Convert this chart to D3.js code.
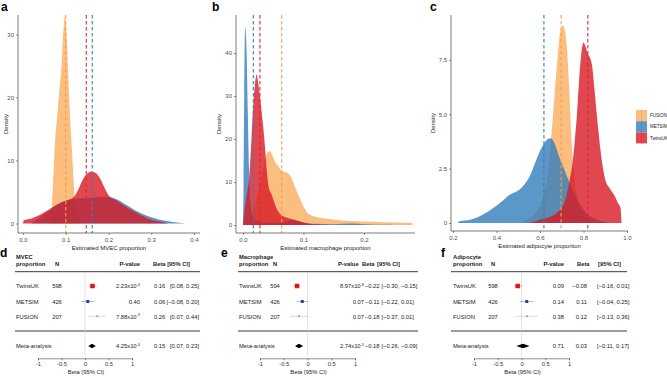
<!DOCTYPE html>
<html><head><meta charset="utf-8">
<script src="https://cdn.jsdelivr.net/npm/d3@7"></script>
<style>body{margin:0;background:#fff} svg{display:block;font-family:"Liberation Sans",Arial,sans-serif}</style>
</head><body><svg width="667" height="376"></svg>
<script>
// ---------- DATA ----------
const cohorts = ["FUSION", "METSIM", "TwinsUK"];

// Panel a: MVEC proportion densities [proportion, density]
const mvecFusion = [[0.06,0],[0.065,1],[0.07,6],[0.075,13],[0.08,17],[0.085,21],[0.09,25],[0.095,31],[0.098,33],[0.102,30],[0.105,25],[0.11,17],[0.115,11],[0.12,5],[0.125,2],[0.13,0.5],[0.14,0]];
const mvecMetsim = [[0.02,0],[0.03,0.5],[0.04,1.0],[0.06,2.0],[0.08,3.0],[0.1,3.6],[0.12,3.9],[0.14,4.0],[0.16,4.1],[0.18,4.2],[0.2,4.2],[0.22,3.8],[0.24,3.0],[0.26,2.2],[0.28,1.5],[0.3,1.0],[0.32,0.6],[0.34,0.35],[0.36,0.15],[0.38,0]];
const mvecTwins = [[0.0,0],[0.002,0.5],[0.02,0.8],[0.04,1.4],[0.06,2.2],[0.08,3.0],[0.1,3.6],[0.12,4.3],[0.13,5.5],[0.14,7.0],[0.15,7.9],[0.16,8.2],[0.17,8.0],[0.18,7.2],[0.19,5.8],[0.2,4.5],[0.22,3.6],[0.24,2.7],[0.26,1.9],[0.28,1.2],[0.3,0.6],[0.32,0.3],[0.34,0]];
const mvecMeans = [0.100, 0.162, 0.148];
const mvecTicks = [0, 0.1, 0.2, 0.3, 0.4];
const mvecYTicks = [0, 10, 20, 30];

// Panel b: macrophage proportion densities
const macroFusion = [[0,0],[0.005,0.5],[0.01,1.5],[0.02,5],[0.03,11],[0.035,14.5],[0.04,16.6],[0.044,17.2],[0.048,16.4],[0.052,15],[0.056,14],[0.06,13.3],[0.065,12.6],[0.07,12.3],[0.075,12],[0.08,11],[0.085,9.2],[0.09,7.5],[0.095,5.8],[0.1,4.3],[0.106,2.9],[0.115,2.1],[0.127,1.7],[0.15,1.3],[0.17,1.0],[0.2,0.8],[0.23,0.65],[0.27,0.5],[0.28,0.45],[0.2801,0]];
const macroMetsim = [[0,0],[0.001,10],[0.002,30],[0.0035,46],[0.006,40],[0.008,26],[0.01,13],[0.012,6],[0.015,2.5],[0.02,1.2],[0.03,0.7],[0.05,0.5],[0.07,0.7],[0.08,1.1],[0.09,1.0],[0.1,0.6],[0.12,0.3],[0.15,0.2],[0.18,0.35],[0.2,0.2],[0.24,0.05],[0.27,0]];
const macroTwins = [[0,0],[0.002,3],[0.005,6],[0.008,8.5],[0.01,10.5],[0.012,15],[0.014,20],[0.017,28],[0.02,33],[0.0225,35],[0.025,33],[0.028,30],[0.031,26],[0.034,22],[0.037,17],[0.04,11.5],[0.043,8.5],[0.047,7.2],[0.05,6],[0.055,4],[0.06,2.8],[0.07,1.8],[0.08,1.4],[0.09,1.0],[0.1,0.6],[0.11,0.3],[0.12,0.15],[0.14,0]];
const macroMeans = [0.064, 0.017, 0.028];
const macroTicks = [0, 0.1, 0.2];
const macroYTicks = [0, 10, 20, 30, 40];

// Panel c: adipocyte proportion densities
const adipoFusion = [[0.5,0],[0.55,0.2],[0.6,0.8],[0.62,1.4],[0.64,2.6],[0.66,5],[0.68,7.5],[0.695,8.9],[0.705,9.1],[0.715,8.8],[0.725,7.9],[0.735,6],[0.745,3.8],[0.755,2.4],[0.77,1.2],[0.79,0.5],[0.82,0.15],[0.85,0]];
const adipoMetsim = [[0.22,0],[0.23,0.08],[0.28,0.15],[0.34,0.4],[0.38,0.65],[0.42,0.95],[0.46,1.3],[0.5,1.5],[0.53,1.8],[0.555,2.2],[0.575,2.7],[0.595,3.2],[0.615,3.6],[0.635,3.85],[0.65,3.9],[0.665,3.7],[0.69,3.0],[0.71,2.5],[0.73,2.0],[0.76,1.3],[0.8,0.6],[0.85,0.2],[0.9,0.05],[0.92,0]];
const adipoTwins = [[0.55,0],[0.6,0.15],[0.65,0.3],[0.68,0.5],[0.7,0.7],[0.72,1.2],[0.735,1.9],[0.75,2.8],[0.76,3.8],[0.77,5.0],[0.78,6.6],[0.79,7.8],[0.8,8.3],[0.81,8.1],[0.82,7.8],[0.83,7.6],[0.84,7.2],[0.85,6.2],[0.86,5.1],[0.87,4.1],[0.88,3.2],[0.89,2.5],[0.9,2.0],[0.92,1.6],[0.94,1.3],[0.96,0.9],[0.97,0.7],[0.975,0]];
const adipoMeans = [0.697, 0.618, 0.820];
const adipoTicks = [0.2, 0.4, 0.6, 0.8, 1.0];
const adipoYTicks = [0, 2.5, 5.0, 7.5];

// Forest plots
const studies = ["TwinsUK", "METSIM", "FUSION"];
const forestTicks = [-1, -0.5, 0, 0.5, 1];
const forestTickLabels = ["-1", "-0.5", "0", "0.5", "1"];

const mvecN = [598, 426, 207];
const mvecP = ["2.23x10^-4", "0.40", "7.88x10^-3"];
const mvecBeta = [0.16, 0.06, 0.26];
const mvecLo = [0.08, -0.08, 0.07];
const mvecHi = [0.25, 0.20, 0.44];
const mvecMeta = [0.15, 0.07, 0.23];
const mvecMetaP = "4.25x10^-4";

const macroN = [594, 426, 207];
const macroP = ["8.97x10^-8", "0.07", "0.07"];
const macroBeta = [-0.22, -0.11, -0.18];
const macroLo = [-0.30, -0.22, -0.37];
const macroHi = [-0.15, 0.01, 0.01];
const macroMeta = [-0.18, -0.26, -0.09];
const macroMetaP = "2.74x10^-5";

const adipoN = [598, 426, 207];
const adipoP = ["0.09", "0.14", "0.38"];
const adipoBeta = [-0.08, 0.11, 0.12];
const adipoLo = [-0.16, -0.04, -0.13];
const adipoHi = [0.01, 0.25, 0.36];
const adipoMeta = [0.03, -0.11, 0.17];
const adipoMetaP = "0.71";

// ---------- STYLE ----------
const fillColor = {FUSION: "#FAAE5E", METSIM: "#327DBC", TwinsUK: "#D81923"};
const vlineColor = {FUSION: "#F4A04E", METSIM: "#3C7DB6", TwinsUK: "#D42A3C"};
const markColor = {TwinsUK: "#D7191C", METSIM: "#2B3F9A", FUSION: "#9A9A9A"};
const markSize = {TwinsUK: 4.5, METSIM: 3, FUSION: 1.8};
const axisCol = "#444";
const txtCol = "#4d4d4d";

const svg = d3.select("svg");
const f2 = d3.format(".2f");

// ---------- DENSITY PANELS ----------
function densityPanel(o) {
  const g = svg.append("g");
  const x = d3.scaleLinear().domain(o.xd).range(o.xr);
  const y = d3.scaleLinear().domain(o.yd).range(o.yr);
  const area = d3.area().x(d => x(d[0])).y0(y(0)).y1(d => y(d[1])).curve(d3.curveMonotoneX);
  o.series.forEach((s, i) => {
    g.append("path").attr("d", area(s)).attr("fill", fillColor[cohorts[i]]).attr("fill-opacity", 0.8);
  });
  o.means.forEach((m, i) => {
    g.append("line").attr("x1", x(m)).attr("x2", x(m)).attr("y1", o.top).attr("y2", o.bottom)
      .attr("stroke", vlineColor[cohorts[i]]).attr("stroke-width", 1.1).attr("stroke-dasharray", "3.5,2.5");
  });
  g.append("line").attr("x1", o.left).attr("x2", o.left).attr("y1", o.top).attr("y2", o.bottom).attr("stroke", axisCol).attr("stroke-width", 0.7);
  g.append("line").attr("x1", o.left).attr("x2", o.right).attr("y1", o.bottom).attr("y2", o.bottom).attr("stroke", axisCol).attr("stroke-width", 0.7);
  const xa = d3.axisBottom(x).tickValues(o.xt).tickSize(2).tickPadding(2.5).tickFormat(o.xf);
  const xg = g.append("g").attr("transform", `translate(0,${o.bottom})`).call(xa);
  const ya = d3.axisLeft(y).tickValues(o.yt).tickSize(2).tickPadding(2).tickFormat(o.yf);
  const yg = g.append("g").attr("transform", `translate(${o.left},0)`).call(ya);
  [xg, yg].forEach(a => {
    a.select(".domain").remove();
    a.selectAll("line").attr("stroke", axisCol).attr("stroke-width", 0.6);
    a.selectAll("text").attr("font-size", 6).attr("fill", txtCol).attr("font-family", "Liberation Sans, Arial, sans-serif");
  });
  g.append("text").attr("x", (o.left + o.right) / 2).attr("y", o.bottom + 17).attr("text-anchor", "middle")
    .attr("font-size", 6).attr("fill", "#222").text(o.xlabel);
  g.append("text").attr("transform", `translate(${o.ylabX},${(o.top + o.bottom) / 2}) rotate(-90)`)
    .attr("text-anchor", "middle").attr("font-size", 6).attr("fill", "#222").text("Density");
  g.append("text").attr("x", o.letterX).attr("y", 11).attr("font-size", 12).attr("font-weight", "bold").attr("fill", "#000").text(o.letter);
}

densityPanel({letter: "a", letterX: 1, left: 18, right: 200, top: 15, bottom: 233,
  xd: [0, 0.4], xr: [23, 194], yd: [0, 30], yr: [223.5, 34.5],
  series: [mvecFusion, mvecMetsim, mvecTwins], means: mvecMeans,
  xt: mvecTicks, xf: d3.format(".1f"), yt: mvecYTicks, yf: d3.format("d"),
  xlabel: "Estimated MVEC proportion", ylabX: 8});
densityPanel({letter: "b", letterX: 212, left: 236, right: 415, top: 15, bottom: 233,
  xd: [0, 0.2], xr: [243, 364], yd: [0, 40], yr: [225, 53],
  series: [macroFusion, macroMetsim, macroTwins], means: macroMeans,
  xt: macroTicks, xf: d3.format(".1f"), yt: macroYTicks, yf: d3.format("d"),
  xlabel: "Estimated macrophage proportion", ylabX: 221});
densityPanel({letter: "c", letterX: 430, left: 451, right: 628, top: 15, bottom: 231,
  xd: [0.2, 1.0], xr: [453, 627], yd: [0, 7.5], yr: [223, 60],
  series: [adipoFusion, adipoMetsim, adipoTwins], means: adipoMeans,
  xt: adipoTicks, xf: d3.format(".1f"), yt: adipoYTicks, yf: v => v === 0 ? "0" : d3.format(".1f")(v),
  xlabel: "Estimated adipocyte proportion", ylabX: 435});

// legend
const leg = svg.append("g");
cohorts.forEach((c, i) => {
  const y0 = 110 + i * 11.2;
  leg.append("rect").attr("x", 636).attr("y", y0).attr("width", 11).attr("height", 11)
    .attr("fill", fillColor[c]).attr("fill-opacity", 0.8);
  leg.append("line").attr("x1", 641.5).attr("x2", 641.5).attr("y1", y0).attr("y2", y0 + 11)
    .attr("stroke", vlineColor[c]).attr("stroke-width", 0.8).attr("stroke-dasharray", "2,1");
  leg.append("text").attr("x", 650).attr("y", y0 + 7.2).attr("font-size", 4.5).attr("fill", "#222").text(c);
});

// ---------- FOREST PANELS ----------
function pvalText(sel, s) {
  const parts = s.split("^");
  sel.append("tspan").text(parts[0]);
  if (parts[1]) sel.append("tspan").attr("dy", -2.3).attr("font-size", 3.8).text(parts[1]);
}
function ciText(lo, hi) { return "[" + f2(lo) + ", " + f2(hi) + "]"; }

function forestPanel(o) {
  const g = svg.append("g");
  const x = d3.scaleLinear().domain([-1, 1]).range(o.xr);
  const rowY = [286, 301.5, 316.3];
  const metaY = 346;
  const fs = 5.8;
  const T = (xx, yy, s, anchor, bold) => g.append("text").attr("x", xx).attr("y", yy)
    .attr("text-anchor", anchor || "start").attr("font-size", fs).attr("fill", "#222")
    .attr("font-weight", bold ? "bold" : "normal").text(s);
  g.append("text").attr("x", o.letterX).attr("y", 257).attr("font-size", 12).attr("font-weight", "bold").text(o.letter);
  T(o.labX, 259, o.title, "start", true);
  T(o.labX, 266, "proportion", "start", true);
  T(o.nX, 266, "N", "middle", true);
  o.headers.forEach(h => T(h[1], 266, h[0], h[2], true));
  g.append("line").attr("x1", o.left).attr("x2", o.right).attr("y1", 271.7).attr("y2", 271.7).attr("stroke", "#222").attr("stroke-width", 0.9);
  g.append("line").attr("x1", o.left).attr("x2", o.right).attr("y1", 331).attr("y2", 331).attr("stroke", "#222").attr("stroke-width", 0.9);
  g.append("line").attr("x1", x(0)).attr("x2", x(0)).attr("y1", 272).attr("y2", 356).attr("stroke", "#d0d0d0").attr("stroke-width", 0.6);
  studies.forEach((s, i) => {
    const yy = rowY[i];
    T(o.labX, yy + 2.2, s);
    T(o.nX, yy + 2.2, String(o.n[i]), "middle");
    pvalText(T(o.pX, yy + 2.2, "", "end"), o.p[i]);
    T(o.bX, yy + 2.2, f2(o.beta[i]), o.bAnchor);
    T(o.cX, yy + 2.2, ciText(o.lo[i], o.hi[i]), o.cAnchor);
    g.append("line").attr("x1", x(o.lo[i])).attr("x2", x(o.hi[i])).attr("y1", yy).attr("y2", yy)
      .attr("stroke", markColor[s]).attr("stroke-opacity", 0.6).attr("stroke-width", 0.6);
    const sz = markSize[s];
    g.append("rect").attr("x", x(o.beta[i]) - sz / 2).attr("y", yy - sz / 2).attr("width", sz).attr("height", sz)
      .attr("fill", markColor[s]);
  });
  T(o.labX, metaY + 2.2, "Meta-analysis");
  pvalText(T(o.pX, metaY + 2.2, "", "end"), o.metaP);
  T(o.bX, metaY + 2.2, f2(o.meta[0]), o.bAnchor);
  T(o.cX, metaY + 2.2, ciText(o.meta[1], o.meta[2]), o.cAnchor);
  const dia = [[x(o.meta[1]), metaY], [x(o.meta[0]), metaY - 2.2], [x(o.meta[2]), metaY], [x(o.meta[0]), metaY + 2.2]];
  g.append("path").attr("d", "M" + dia.join("L") + "Z").attr("fill", "#000");
  const ax = d3.axisBottom(x).tickValues(forestTicks).tickSize(2).tickPadding(2)
    .tickFormat((d, i) => forestTickLabels[i]);
  const ag = g.append("g").attr("transform", "translate(0,358.3)").call(ax);
  ag.select(".domain").attr("stroke", axisCol).attr("stroke-width", 0.6);
  ag.selectAll("line").attr("stroke", axisCol).attr("stroke-width", 0.6);
  ag.selectAll("text").attr("font-size", 5.8).attr("fill", "#333").attr("font-family", "Liberation Sans, Arial, sans-serif");
  g.append("text").attr("x", x(0) + 1).attr("y", 374).attr("text-anchor", "middle").attr("font-size", 5.8).attr("fill", "#222").text("Beta (95% CI)");
}

forestPanel({letter: "d", letterX: 0, title: "MVEC", labX: 16, nX: 57, left: 15, right: 200, xr: [38, 132],
  headers: [["P-value", 140, "end"], ["Beta [95% CI]", 153, "start"]],
  pX: 140, bX: 154, bAnchor: "start", cX: 199, cAnchor: "end",
  n: mvecN, p: mvecP, beta: mvecBeta, lo: mvecLo, hi: mvecHi, meta: mvecMeta, metaP: mvecMetaP});
forestPanel({letter: "e", letterX: 221, title: "Macrophage", labX: 239, nX: 275, left: 238, right: 418, xr: [260, 355],
  headers: [["P-value", 338, "start"], ["Beta", 362, "start"], ["[95% CI]", 377, "start"]],
  pX: 364, bX: 379.5, bAnchor: "end", cX: 381.5, cAnchor: "start",
  n: macroN, p: macroP, beta: macroBeta, lo: macroLo, hi: macroHi, meta: macroMeta, metaP: macroMetaP});
forestPanel({letter: "f", letterX: 441, title: "Adipocyte", labX: 453, nX: 493, left: 451, right: 627, xr: [474, 569],
  headers: [["P-value", 564, "end"], ["Beta", 577, "start"], ["[95% CI]", 598, "start"]],
  pX: 564, bX: 587, bAnchor: "end", cX: 597, cAnchor: "start",
  n: adipoN, p: adipoP, beta: adipoBeta, lo: adipoLo, hi: adipoHi, meta: adipoMeta, metaP: adipoMetaP});
</script></body></html>
